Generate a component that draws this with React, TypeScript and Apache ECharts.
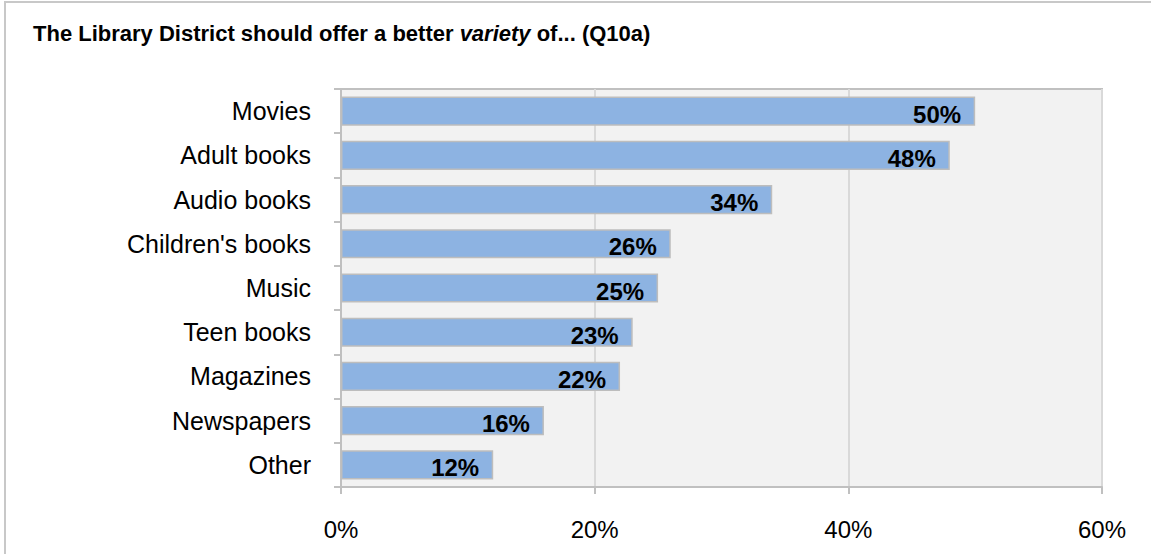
import React, { useEffect, useRef } from "react";
import * as echarts from "echarts";

const categories = ["Movies", "Adult books", "Audio books", "Children's books", "Music", "Teen books", "Magazines", "Newspapers", "Other"];
const values = [50, 48, 34, 26, 25, 23, 22, 16, 12];
const xTicks = { min: 0, max: 60, interval: 20 };
const titleParts = ["The Library District should offer a better ", "variety", " of... (Q10a)"];

const FONT = "'Liberation Sans', Arial, sans-serif";

export default function App() {
  const ref = useRef<HTMLDivElement>(null);
  useEffect(() => {
    document.body.style.margin = "0";
    const chart = echarts.init(ref.current!, null, { renderer: "svg" });
    chart.setOption({
      animation: false,
      backgroundColor: "#ffffff",
      title: {
        left: 33,
        top: 22,
        padding: 0,
        text: `{b|${titleParts[0]}}{i|${titleParts[1]}}{b|${titleParts[2]}}`,
        textStyle: {
          rich: {
            b: { fontFamily: FONT, fontSize: 22, fontWeight: "bold", color: "#000" },
            i: { fontFamily: FONT, fontSize: 22, fontWeight: "bold", fontStyle: "italic", color: "#000" },
          },
        },
      },
      graphic: [
        {
          type: "rect",
          shape: { x: 5, y: 2, width: 1300, height: 700 },
          style: { fill: "none", stroke: "#c8c8c8", lineWidth: 2 },
          silent: true,
          z: -1,
        },
      ],
      grid: {
        left: 341,
        top: 89,
        width: 761,
        height: 398,
        show: true,
        backgroundColor: "#f2f2f2",
        borderColor: "#c0c0c0",
        borderWidth: 2,
      },
      xAxis: {
        type: "value",
        min: xTicks.min,
        max: xTicks.max,
        interval: xTicks.interval,
        axisLine: { show: true, lineStyle: { color: "#c0c0c0", width: 2 } },
        axisTick: { show: true, length: 7, lineStyle: { color: "#c0c0c0", width: 2 } },
        splitLine: { show: true, lineStyle: { color: "#d9d9d9", width: 2 } },
        axisLabel: {
          formatter: "{value}%",
          margin: 30,
          color: "#000",
          fontFamily: FONT,
          fontSize: 24,
        },
      },
      yAxis: {
        type: "category",
        inverse: true,
        data: categories,
        axisLine: { show: true, lineStyle: { color: "#c0c0c0", width: 2 } },
        axisTick: { show: true, length: 7, lineStyle: { color: "#c0c0c0", width: 2 } },
        axisLabel: {
          margin: 30,
          color: "#000",
          fontFamily: FONT,
          fontSize: 25,
        },
      },
      series: [
        {
          type: "bar",
          data: values,
          barCategoryGap: "34%",
          itemStyle: { color: "#8db3e2", borderColor: "#bdbdbd", borderWidth: 1.5 },
          label: {
            show: true,
            position: "insideRight",
            distance: 14,
            offset: [0, 3],
            formatter: "{c}%",
            color: "#000",
            fontFamily: FONT,
            fontSize: 24,
            fontWeight: "bold",
          },
        },
      ],
    });
    return () => chart.dispose();
  }, []);
  return <div ref={ref} style={{ width: 1151, height: 554 }} />;
}
